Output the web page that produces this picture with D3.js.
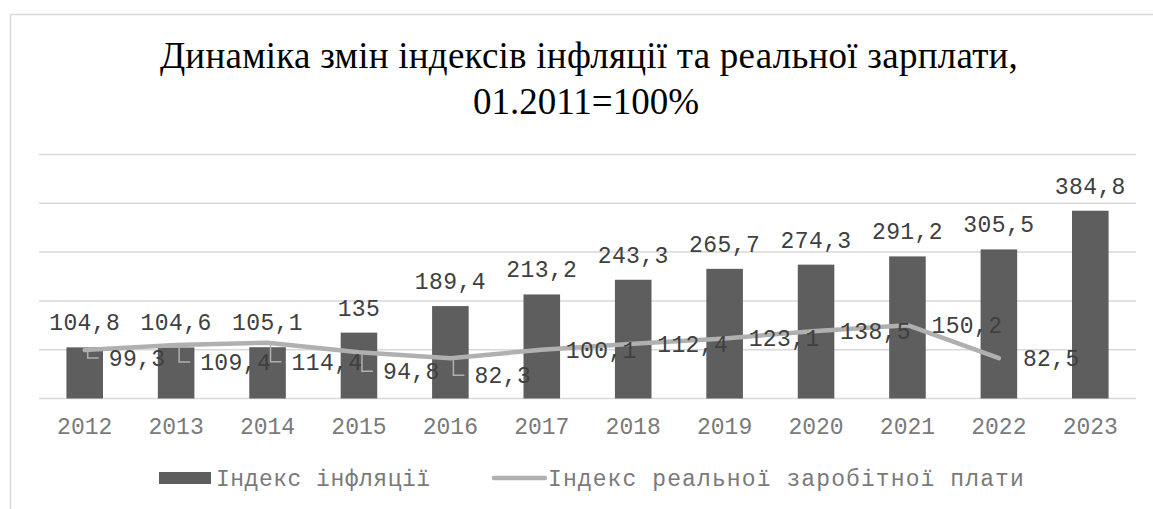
<!doctype html>
<html>
<head>
<meta charset="utf-8">
<script src="https://d3js.org/d3.v7.min.js"></script>
<style>
    html,body{
        margin: 0;
        overflow: hidden;
        background: #fff;
    }
    text { font-family: "Liberation Mono", monospace; }
    .title { font-family: "Liberation Serif", serif; fill: #000; }
</style>
</head>
<body>
<script>
// values
var years = ["2012","2013","2014","2015","2016","2017","2018","2019","2020","2021","2022","2023"];
var inflation = [104.8, 104.6, 105.1, 135, 189.4, 213.2, 243.3, 265.7, 274.3, 291.2, 305.5, 384.8];
var wages = [99.3, 109.4, 114.4, 94.8, 82.3, 100.1, 112.4, 123.1, 138.5, 150.2, 82.5, null];
var yTicks = [0, 100, 200, 300, 400, 500];
var seriesNames = ["Індекс інфляції", "Індекс реальної заробітної плати"];

(function(){
    var w = 1153, h = 509,
        left = 39, right = 1136,
        top = 154.5, bottom = 398.5,
        barColor = "#5e5e5e",
        lineColor = "#b0b0b0";

    var fmt = function(v){ return String(v).replace(".", ","); };

    var svg = d3.select("body").append("svg")
        .attr("width", w)
        .attr("height", h);

    // chart border
    svg.append("rect")
        .attr("x", 10.5).attr("y", 14.5)
        .attr("width", w + 20).attr("height", h + 20)
        .attr("fill", "none")
        .attr("stroke", "#d9d9d9")
        .attr("stroke-width", 1.5);

    var title = svg.append("text").attr("class", "title")
        .attr("font-size", 37);
    title.append("tspan").attr("x", 589).attr("y", 68).attr("text-anchor", "middle")
        .attr("letter-spacing", 0.25)
        .text("Динаміка змін індексів інфляції та реальної зарплати,");
    title.append("tspan").attr("x", 586).attr("y", 114).attr("text-anchor", "middle")
        .text("01.2011=100%");

    var x = d3.scaleBand().domain(years).range([left, right]).paddingInner(0.6).paddingOuter(0.3);
    var xc = function(d){ return x(d) + x.bandwidth() / 2; };
    var y = d3.scaleLinear().domain([0, 500]).range([bottom, top]);

    // gridlines
    svg.append("g").selectAll("line").data(yTicks).enter().append("line")
        .attr("x1", left).attr("x2", right)
        .attr("y1", function(d){ return y(d); })
        .attr("y2", function(d){ return y(d); })
        .attr("stroke", "#d9d9d9")
        .attr("stroke-width", 1.5);

    // x axis labels
    var xAxis = d3.axisBottom(x).tickSize(0).tickPadding(0);
    var gx = svg.append("g").attr("transform", "translate(0," + (bottom + 35) + ")").call(xAxis);
    gx.select(".domain").remove();
    gx.selectAll("text")
        .attr("dy", 0)
        .attr("font-family", "Liberation Mono, monospace")
        .attr("font-size", 23)
        .attr("fill", "#7a7a7a");

    // bars
    svg.append("g").selectAll("rect").data(inflation).enter().append("rect")
        .attr("x", function(d, i){ return x(years[i]); })
        .attr("width", x.bandwidth())
        .attr("y", function(d){ return y(d); })
        .attr("height", function(d){ return y(0) - y(d); })
        .attr("fill", barColor);

    svg.append("g").selectAll("text").data(inflation).enter().append("text")
        .attr("x", function(d, i){ return xc(years[i]); })
        .attr("y", function(d){ return y(d) - 17; })
        .attr("text-anchor", "middle")
        .attr("font-size", 23)
        .attr("letter-spacing", 0.4)
        .attr("fill", "#404040")
        .text(fmt);

    // wage line
    var pts = wages.map(function(v, i){ return {x: xc(years[i]), v: v}; })
        .filter(function(d){ return d.v !== null; });

    // labels pushed below the bar labels get leader lines
    var shift = [8, 17, 19, 19, 17, 0, 0, 0, 0, 0, 0];

    svg.append("g").selectAll("path").data(pts).enter()
        .filter(function(d, i){ return shift[i] > 0; })
        .append("path")
        .attr("d", function(d){
            var py = y(d.v), ly = py + shift[pts.indexOf(d)];
            return "M" + (d.x + 3) + "," + py + "V" + ly + "H" + (d.x + 14);
        })
        .attr("fill", "none")
        .attr("stroke", lineColor)
        .attr("stroke-width", 1.5);

    svg.append("path").datum(pts)
        .attr("d", d3.line().x(function(d){ return d.x; }).y(function(d){ return y(d.v); }))
        .attr("fill", "none")
        .attr("stroke", lineColor)
        .attr("stroke-width", 4.5)
        .attr("stroke-linecap", "round")
        .attr("stroke-linejoin", "round");

    svg.append("g").selectAll("text").data(pts).enter().append("text")
        .attr("x", function(d){ return d.x + 24; })
        .attr("y", function(d, i){ return y(d.v) + shift[i] + 8; })
        .attr("font-size", 23)
        .attr("letter-spacing", 0.4)
        .attr("fill", "#404040")
        .text(function(d){ return fmt(d.v); });

    // legend
    var lg = svg.append("g");
    lg.append("rect").attr("x", 159).attr("y", 472).attr("width", 52).attr("height", 12).attr("fill", barColor);
    lg.append("text").attr("x", 216).attr("y", 486).attr("font-size", 23).attr("letter-spacing", 0.5)
        .attr("fill", "#7a7a7a").text(seriesNames[0]);
    lg.append("line").attr("x1", 494).attr("x2", 545).attr("y1", 478).attr("y2", 478)
        .attr("stroke", lineColor).attr("stroke-width", 4.5).attr("stroke-linecap", "round");
    lg.append("text").attr("x", 548).attr("y", 486).attr("font-size", 23).attr("letter-spacing", 1.1)
        .attr("fill", "#7a7a7a").text(seriesNames[1]);
})();
</script>
</body>
</html>
